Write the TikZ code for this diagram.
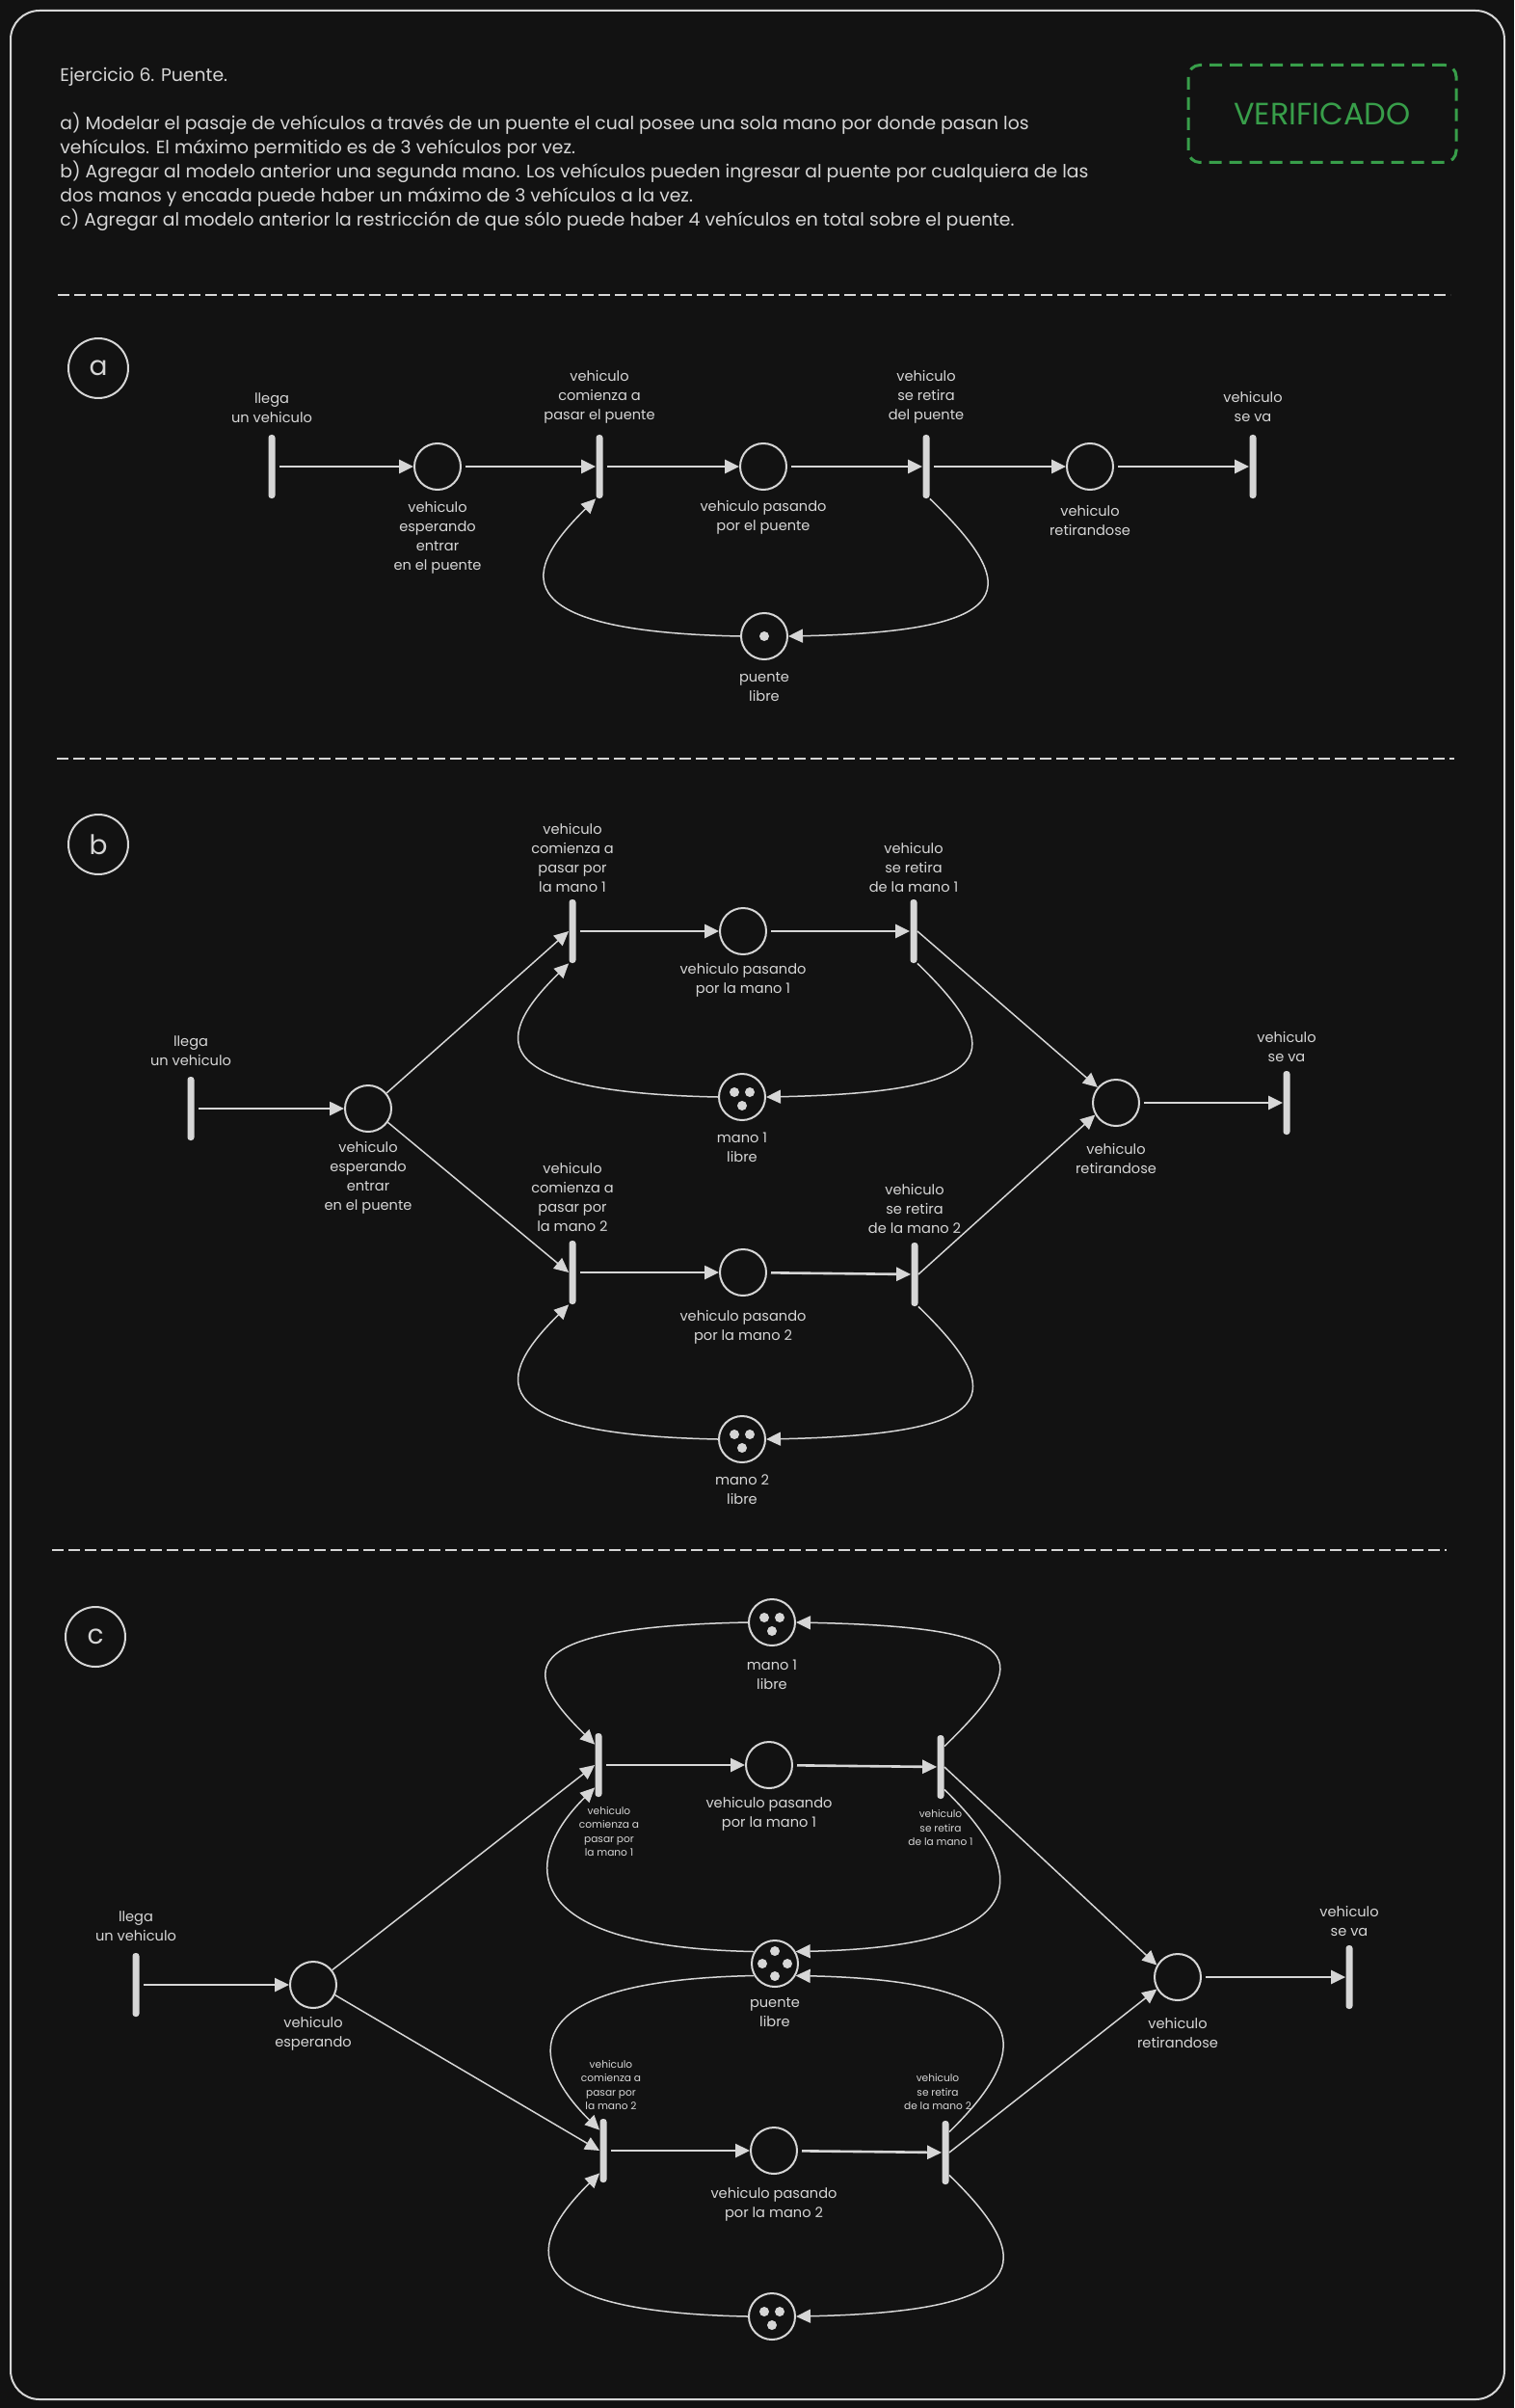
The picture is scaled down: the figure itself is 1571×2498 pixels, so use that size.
\documentclass[tikz,border=0pt]{standalone}
\usepackage{fontspec}
\setmainfont{Poppins}
\usetikzlibrary{arrows.meta, calc}
\definecolor{fondo}{RGB}{18,18,18}
\definecolor{trazo}{RGB}{214,214,214}
\definecolor{verde}{RGB}{56,158,74}

\begin{document}
\begin{tikzpicture}[x=0.5pt, y=-0.5pt,
    lugar/.style={circle, draw=trazo, line width=1pt, minimum size=24pt, inner sep=0pt},
    transicion/.style={rectangle, fill=trazo, minimum width=3.5pt, minimum height=33pt, inner sep=0pt, rounded corners=1.5pt},
    etiqueta/.style={text=trazo, align=center, inner sep=0pt, font=\fontsize{7.3}{10}\selectfont},
    chica/.style={text=trazo, align=center, inner sep=0pt, font=\fontsize{5.3}{7.2}\selectfont},
    grueso/.style={draw=trazo, line width=1.3pt, shorten <=2pt, -{Triangle[length=7.5pt,width=7pt]}},
    fino/.style={draw=trazo, line width=0.75pt, -{Triangle[length=7.5pt,width=7pt]}},
    seccion/.style={circle, draw=trazo, line width=1pt, minimum size=31pt, inner sep=0pt, text=trazo, font=\fontsize{14}{14}\selectfont},
    separador/.style={draw=trazo, line width=1pt, dash pattern=on 6pt off 2.5pt}]

    \fill[fondo] (0,0) rectangle (1571,2498);
    \draw[trazo, line width=1pt, rounded corners=15pt] (11,11) rectangle (1561,2489);

    \node[text=trazo, anchor=north west, inner sep=0pt, align=left, font=\fontsize{9.4}{12.5}\selectfont] (enunciado) at (62,70)
        {Ejercicio 6. Puente.\\[12.5pt]
        a) Modelar el pasaje de vehículos a través de un puente el cual posee una sola mano por donde pasan los\\
        vehículos. El máximo permitido es de 3 vehículos por vez.\\
        b) Agregar al modelo anterior una segunda mano. Los vehículos pueden ingresar al puente por cualquiera de las\\
        dos manos y encada puede haber un máximo de 3 vehículos a la vez.\\
        c) Agregar al modelo anterior la restricción de que sólo puede haber 4 vehículos en total sobre el puente.};
    \node[draw=verde, line width=1.5pt, dash pattern=on 6.5pt off 4pt, rounded corners=6pt, minimum width=139pt, minimum height=50.5pt, text=verde, font=\fontsize{16}{16}\selectfont] (verificado) at (1372,118) {VERIFICADO};

    \draw[separador] (60,306) -- (1505,306);
    \draw[separador] (59,787) -- (1509,787);
    \draw[separador] (54,1608) -- (1501,1608);

    \node[seccion] (secA) at (102,382) {a};
    \node[transicion] (ta1) at (282,484) {};
    \node[lugar] (pa1) at (454,484) {};
    \node[transicion] (ta2) at (622,484) {};
    \node[lugar] (pa2) at (792,484) {};
    \node[transicion] (ta3) at (961,484) {};
    \node[lugar] (pa3) at (1131,484) {};
    \node[transicion] (ta4) at (1300,484) {};
    \node[lugar] (pa4) at (793,660) {};
    \fill[trazo] (pa4) circle (2.5pt);

    \node[etiqueta] (la1) at (282,423) {llega\\un vehiculo};
    \node[etiqueta] (la2) at (454,558) {vehiculo\\esperando\\entrar\\en el puente};
    \node[etiqueta] (la3) at (622,412) {vehiculo\\comienza a\\pasar el puente};
    \node[etiqueta] (la4) at (792,537) {vehiculo pasando\\por el puente};
    \node[etiqueta] (la5) at (961,412) {vehiculo\\se retira\\del puente};
    \node[etiqueta] (la6) at (1131,540) {vehiculo\\retirandose};
    \node[etiqueta] (la7) at (1300,422) {vehiculo\\se va};
    \node[etiqueta] (la8) at (793,713) {puente\\libre};

    \draw[grueso] (ta1) -- (pa1);
    \draw[grueso] (pa1) -- (ta2);
    \draw[grueso] (ta2) -- (pa2);
    \draw[grueso] (pa2) -- (ta3);
    \draw[grueso] (ta3) -- (pa3);
    \draw[grueso] (pa3) -- (ta4);
    \draw[fino] (ta3.south east) .. controls +(95,92) and +(243,-5) .. (pa4.east);
    \draw[fino] (pa4.west) .. controls +(-254,-5) and +(-73,72) .. (ta2.south west);

    \node[seccion] (secB) at (102,876) {b};
    \node[transicion] (tb1) at (198,1150) {};
    \node[lugar] (pb1) at (382,1150) {};
    \node[transicion] (tb2) at (594,966) {};
    \node[lugar] (pb2) at (771,966) {};
    \node[transicion] (tb3) at (948,966) {};
    \node[lugar] (pb3) at (770,1138) {};
    \node[lugar] (pb4) at (1158,1144) {};
    \node[transicion] (tb4) at (1335,1144) {};
    \node[transicion] (tb5) at (594,1320) {};
    \node[lugar] (pb5) at (771,1320) {};
    \node[transicion] (tb6) at (949,1322) {};
    \node[lugar] (pb6) at (770,1493) {};
    \fill[trazo] ([shift={(-8,-5)}]pb3) circle (2.5pt);
    \fill[trazo] ([shift={(8,-5)}]pb3) circle (2.5pt);
    \fill[trazo] ([shift={(0,9)}]pb3) circle (2.5pt);
    \fill[trazo] ([shift={(-8,-5)}]pb6) circle (2.5pt);
    \fill[trazo] ([shift={(8,-5)}]pb6) circle (2.5pt);
    \fill[trazo] ([shift={(0,9)}]pb6) circle (2.5pt);

    \node[etiqueta] (lb1) at (198,1090) {llega\\un vehiculo};
    \node[etiqueta] (lb2) at (382,1222) {vehiculo\\esperando\\entrar\\en el puente};
    \node[etiqueta] (lb3) at (594,890) {vehiculo\\comienza a\\pasar por\\la mano 1};
    \node[etiqueta] (lb4) at (771,1017) {vehiculo pasando\\por la mano 1};
    \node[etiqueta] (lb5) at (948,900) {vehiculo\\se retira\\de la mano 1};
    \node[etiqueta] (lb6) at (770,1190) {mano 1\\libre};
    \node[etiqueta] (lb7) at (1158,1202) {vehiculo\\retirandose};
    \node[etiqueta] (lb8) at (1335,1086) {vehiculo\\se va};
    \node[etiqueta] (lb9) at (594,1242) {vehiculo\\comienza a\\pasar por\\la mano 2};
    \node[etiqueta] (lb10) at (771,1377) {vehiculo pasando\\por la mano 2};
    \node[etiqueta] (lb11) at (949,1254) {vehiculo\\se retira\\de la mano 2};
    \node[etiqueta] (lb12) at (770,1545) {mano 2\\libre};

    \draw[grueso] (tb1) -- (pb1);
    \draw[grueso] (tb2) -- (pb2);
    \draw[grueso] (pb2) -- (tb3);
    \draw[grueso] (tb5) -- (pb5);
    \draw[grueso] (pb5) -- (tb6);
    \draw[grueso] (pb4) -- (tb4);
    \draw[fino] (pb1.40) -- (tb2.west);
    \draw[fino] (pb1.-35) -- (tb5.west);
    \draw[fino] (tb3.east) -- (pb4.140);
    \draw[fino] (tb6.east) -- (pb4.-150);
    \draw[fino] (tb3.south east) .. controls +(95,92) and +(243,-5) .. (pb3.east);
    \draw[fino] (pb3.west) .. controls +(-254,-5) and +(-73,72) .. (tb2.south west);
    \draw[fino] (tb6.south east) .. controls +(95,92) and +(243,-5) .. (pb6.east);
    \draw[fino] (pb6.west) .. controls +(-254,-5) and +(-73,72) .. (tb5.south west);

    \node[seccion] (secC) at (99,1698) {c};
    \node[lugar] (pc1) at (801,1683) {};
    \node[transicion] (tc1) at (621,1831) {};
    \node[lugar] (pc2) at (798,1831) {};
    \node[transicion] (tc2) at (976,1833) {};
    \node[lugar] (pc3) at (804,2037) {};
    \node[transicion] (tc3) at (141,2059) {};
    \node[lugar] (pc4) at (325,2059) {};
    \node[lugar] (pc5) at (1222,2051) {};
    \node[transicion] (tc4) at (1400,2051) {};
    \node[transicion] (tc5) at (626,2231) {};
    \node[lugar] (pc6) at (803,2231) {};
    \node[transicion] (tc6) at (981,2233) {};
    \node[lugar] (pc7) at (801,2403) {};
    \fill[trazo] ([shift={(-8,-5)}]pc1) circle (2.5pt);
    \fill[trazo] ([shift={(8,-5)}]pc1) circle (2.5pt);
    \fill[trazo] ([shift={(0,9)}]pc1) circle (2.5pt);
    \fill[trazo] ([shift={(0,-13)}]pc3) circle (2.5pt);
    \fill[trazo] ([shift={(-13,0)}]pc3) circle (2.5pt);
    \fill[trazo] ([shift={(13,0)}]pc3) circle (2.5pt);
    \fill[trazo] ([shift={(0,13)}]pc3) circle (2.5pt);
    \fill[trazo] ([shift={(-8,-5)}]pc7) circle (2.5pt);
    \fill[trazo] ([shift={(8,-5)}]pc7) circle (2.5pt);
    \fill[trazo] ([shift={(0,9)}]pc7) circle (2.5pt);

    \node[etiqueta] (lc1) at (801,1737) {mano 1\\libre};
    \node[chica] (lc2) at (632,1900) {vehiculo\\comienza a\\pasar por\\la mano 1};
    \node[etiqueta] (lc3) at (798,1882) {vehiculo pasando\\por la mano 1};
    \node[chica] (lc4) at (976,1896) {vehiculo\\se retira\\de la mano 1};
    \node[etiqueta] (lc5) at (804,2088) {puente\\libre};
    \node[etiqueta] (lc6) at (141,1998) {llega\\un vehiculo};
    \node[etiqueta] (lc7) at (325,2110) {vehiculo\\esperando};
    \node[etiqueta] (lc8) at (1222,2109) {vehiculo\\retirandose};
    \node[etiqueta] (lc9) at (1400,1993) {vehiculo\\se va};
    \node[chica] (lc10) at (634,2163) {vehiculo\\comienza a\\pasar por\\la mano 2};
    \node[etiqueta] (lc11) at (803,2287) {vehiculo pasando\\por la mano 2};
    \node[chica] (lc12) at (973,2170) {vehiculo\\se retira\\de la mano 2};

    \draw[grueso] (tc3) -- (pc4);
    \draw[grueso] (tc1) -- (pc2);
    \draw[grueso] (pc2) -- (tc2);
    \draw[grueso] (tc5) -- (pc6);
    \draw[grueso] (pc6) -- (tc6);
    \draw[grueso] (pc5) -- (tc4);
    \draw[fino] (pc4.38) -- (tc1.west);
    \draw[fino] (pc4.-25) -- (tc5.west);
    \draw[fino] (tc2.east) -- (pc5.150);
    \draw[fino] (tc6.east) -- (pc5.-150);
    \draw[fino] (pc1.west) .. controls +(-254,5) and +(-73,-72) .. ([yshift=-6pt]tc1.north west);
    \draw[fino] ([yshift=-6pt]tc2.north east) .. controls +(95,-92) and +(243,5) .. (pc1.east);
    \draw[fino] (pc3.150) .. controls +(-254,-5) and +(-73,72) .. ([yshift=5pt]tc1.south west);
    \draw[fino] ([yshift=5pt]tc2.south east) .. controls +(95,92) and +(243,-5) .. (pc3.30);
    \draw[fino] (pc3.210) .. controls +(-254,5) and +(-73,-72) .. ([yshift=-6pt]tc5.north west);
    \draw[fino] ([yshift=-6pt]tc6.north east) .. controls +(95,-92) and +(243,5) .. (pc3.-30);
    \draw[fino] (pc7.west) .. controls +(-254,-5) and +(-73,72) .. ([yshift=5pt]tc5.south west);
    \draw[fino] ([yshift=5pt]tc6.south east) .. controls +(95,92) and +(243,-5) .. (pc7.east);
\end{tikzpicture}
\end{document}
